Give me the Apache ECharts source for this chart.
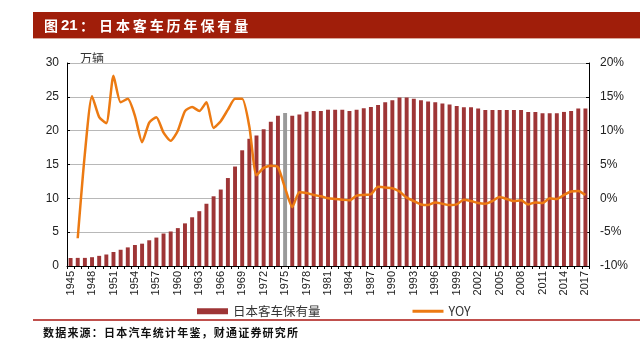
<!DOCTYPE html>
<html><head><meta charset="utf-8">
<script src="https://cdn.jsdelivr.net/npm/echarts@6/dist/echarts.min.js"></script>
<style>html,body{margin:0;padding:0;background:#fff}#c{width:644px;height:347px}</style>
</head><body><div id="c"></div>
<script>
var years = [];
for (var y = 1945; y <= 2017; y++) years.push(String(y));
var stock = [1.18,1.2,1.2,1.3,1.5,1.7,2.07,2.4,2.75,3.1,3.3,3.8,4.2,4.8,5.1,5.6,6.3,7.2,8.1,9.2,10.3,11.3,13.0,14.7,17.1,18.8,
  19.3,20.2,21.3,22.2,22.6,22.2,22.4,22.8,22.9,22.9,23.1,23.1,23.1,22.9,23.1,23.3,23.5,23.8,24.2,24.5,24.9,24.9,24.7,24.5,24.3,24.2,24.0,
  23.85,23.65,23.46,23.46,23.27,23.07,23.07,23.07,23.07,23.07,23.07,22.77,22.77,22.58,22.58,22.58,22.77,22.92,23.27,23.27];
var yoy = [null,-5.9,6.6,15.1,12.0,11.1,18.1,14.2,14.7,12.2,8.3,11.2,12.0,9.7,8.5,10.0,12.9,13.5,12.9,14.2,10.4,11.4,13.1,14.7,14.7,10.6,
  3.4,4.5,4.8,4.6,1.5,-1.3,0.9,0.8,0.5,0.3,0.0,-0.1,-0.2,-0.3,0.4,0.5,0.6,1.7,1.6,1.5,1.0,0.1,-0.4,-0.9,-1.0,-0.6,-0.8,
  -1.0,-0.9,-0.2,-0.4,-0.7,-0.8,-0.4,0.2,-0.1,-0.4,-0.3,-0.9,-0.6,-0.7,0.0,-0.1,0.5,1.0,1.1,0.5];
var leftTicks = [0,5,10,15,20,25,30];
var rightTicks = [-10,-5,0,5,10,15,20];
var highlightYear = '1975';
var titleText = '日本客车历年保有量';
var sourceText = '数据来源：日本汽车统计年鉴，财通证券研究所';

var chart = echarts.init(document.getElementById('c'), null, {renderer:'canvas'});
var barData = stock.map(function(v,i){
  return years[i] === highlightYear ? {value:v, itemStyle:{color:'#9a9a9a'}} : v;
});
var numFont = 'Liberation Sans, Arial, sans-serif';
var cjk = 'Noto Sans CJK SC, sans-serif';

function spaced(str, x0, step, yc, font, fill){
  return str.split('').map(function(ch, i){
    return {type:'text', x:x0 + i*step, y:yc, style:{text:ch, font:font, fill:fill, verticalAlign:'middle', textVerticalAlign:'middle'}};
  });
}
var graphics = [
  {type:'rect', shape:{x:33, y:12, width:607, height:26}, style:{fill:'#a01e0a'}},
  {type:'rect', shape:{x:33, y:38, width:607, height:1}, style:{fill:'#d9a89c'}},
  {type:'text', x:44, y:26, style:{text:'图', font:'bold 14px Noto Sans CJK SC', fill:'#fff', verticalAlign:'middle', textVerticalAlign:'middle'}},
  {type:'text', x:61, y:26, style:{text:'21', font:'bold 15px Liberation Sans', fill:'#fff', verticalAlign:'middle', textVerticalAlign:'middle'}},
  {type:'text', x:80, y:26, style:{text:'：', font:'bold 14px Noto Sans CJK SC', fill:'#fff', verticalAlign:'middle', textVerticalAlign:'middle'}},
  {type:'text', left:80, top:52, style:{text:'万辆', fill:'#333', font:'12px Noto Sans CJK SC'}},
  {type:'rect', shape:{x:33, y:319, width:607, height:2}, style:{fill:'#c0504d'}}
].concat(spaced(titleText, 99, 16.9, 26, 'bold 14px Noto Sans CJK SC', '#fff'))
 .concat(spaced(sourceText, 43, 12.2, 333, 'bold 11px Noto Sans CJK SC', '#111'));

chart.setOption({
  animation:false,
  grid:{left:67, right:55, top:63, bottom:81},
  legend:{
    left:192, top:300, itemWidth:31, itemHeight:6, itemGap:92,
    textStyle:{fontFamily:cjk, fontSize:12.5, color:'#333'},
    data:[{name:'日本客车保有量', icon:'rect'}, {name:'YOY', icon:'path://M0,0L31,0L31,3L0,3Z'}]
  },
  xAxis:{
    type:'category', data:years, boundaryGap:true,
    axisLine:{lineStyle:{color:'#000', width:1}},
    axisTick:{show:true, interval:0, length:3, lineStyle:{color:'#000'}},
    axisLabel:{interval:2, rotate:90, fontFamily:numFont, fontSize:11, color:'#222', margin:5}
  },
  yAxis:[{
    type:'value', min:leftTicks[0], max:leftTicks[leftTicks.length-1], interval:5,
    axisLine:{show:true, lineStyle:{color:'#000'}},
    axisTick:{show:true, inside:true, length:3, lineStyle:{color:'#000'}},
    axisLabel:{fontFamily:numFont, fontSize:12, color:'#222', margin:8},
    splitLine:{lineStyle:{color:'#b8b8b8', width:1.2}}
  },{
    type:'value', min:rightTicks[0], max:rightTicks[rightTicks.length-1], interval:5,
    axisLine:{show:true, lineStyle:{color:'#000'}},
    axisTick:{show:true, inside:true, length:3, lineStyle:{color:'#000'}},
    axisLabel:{fontFamily:numFont, fontSize:12, color:'#222', margin:11, formatter:'{value}%'},
    splitLine:{show:false}
  }],
  series:[{
    name:'日本客车保有量', type:'bar', data:barData, barWidth:'55%',
    itemStyle:{color:'#9e3536'}
  },{
    name:'YOY', type:'line', yAxisIndex:1, data:yoy, symbol:'none', smooth:0.2,
    lineStyle:{color:'#ec7a12', width:2.5}, itemStyle:{color:'#ec7a12'}, connectNulls:false
  }],
  graphic:graphics
});
</script></body></html>
